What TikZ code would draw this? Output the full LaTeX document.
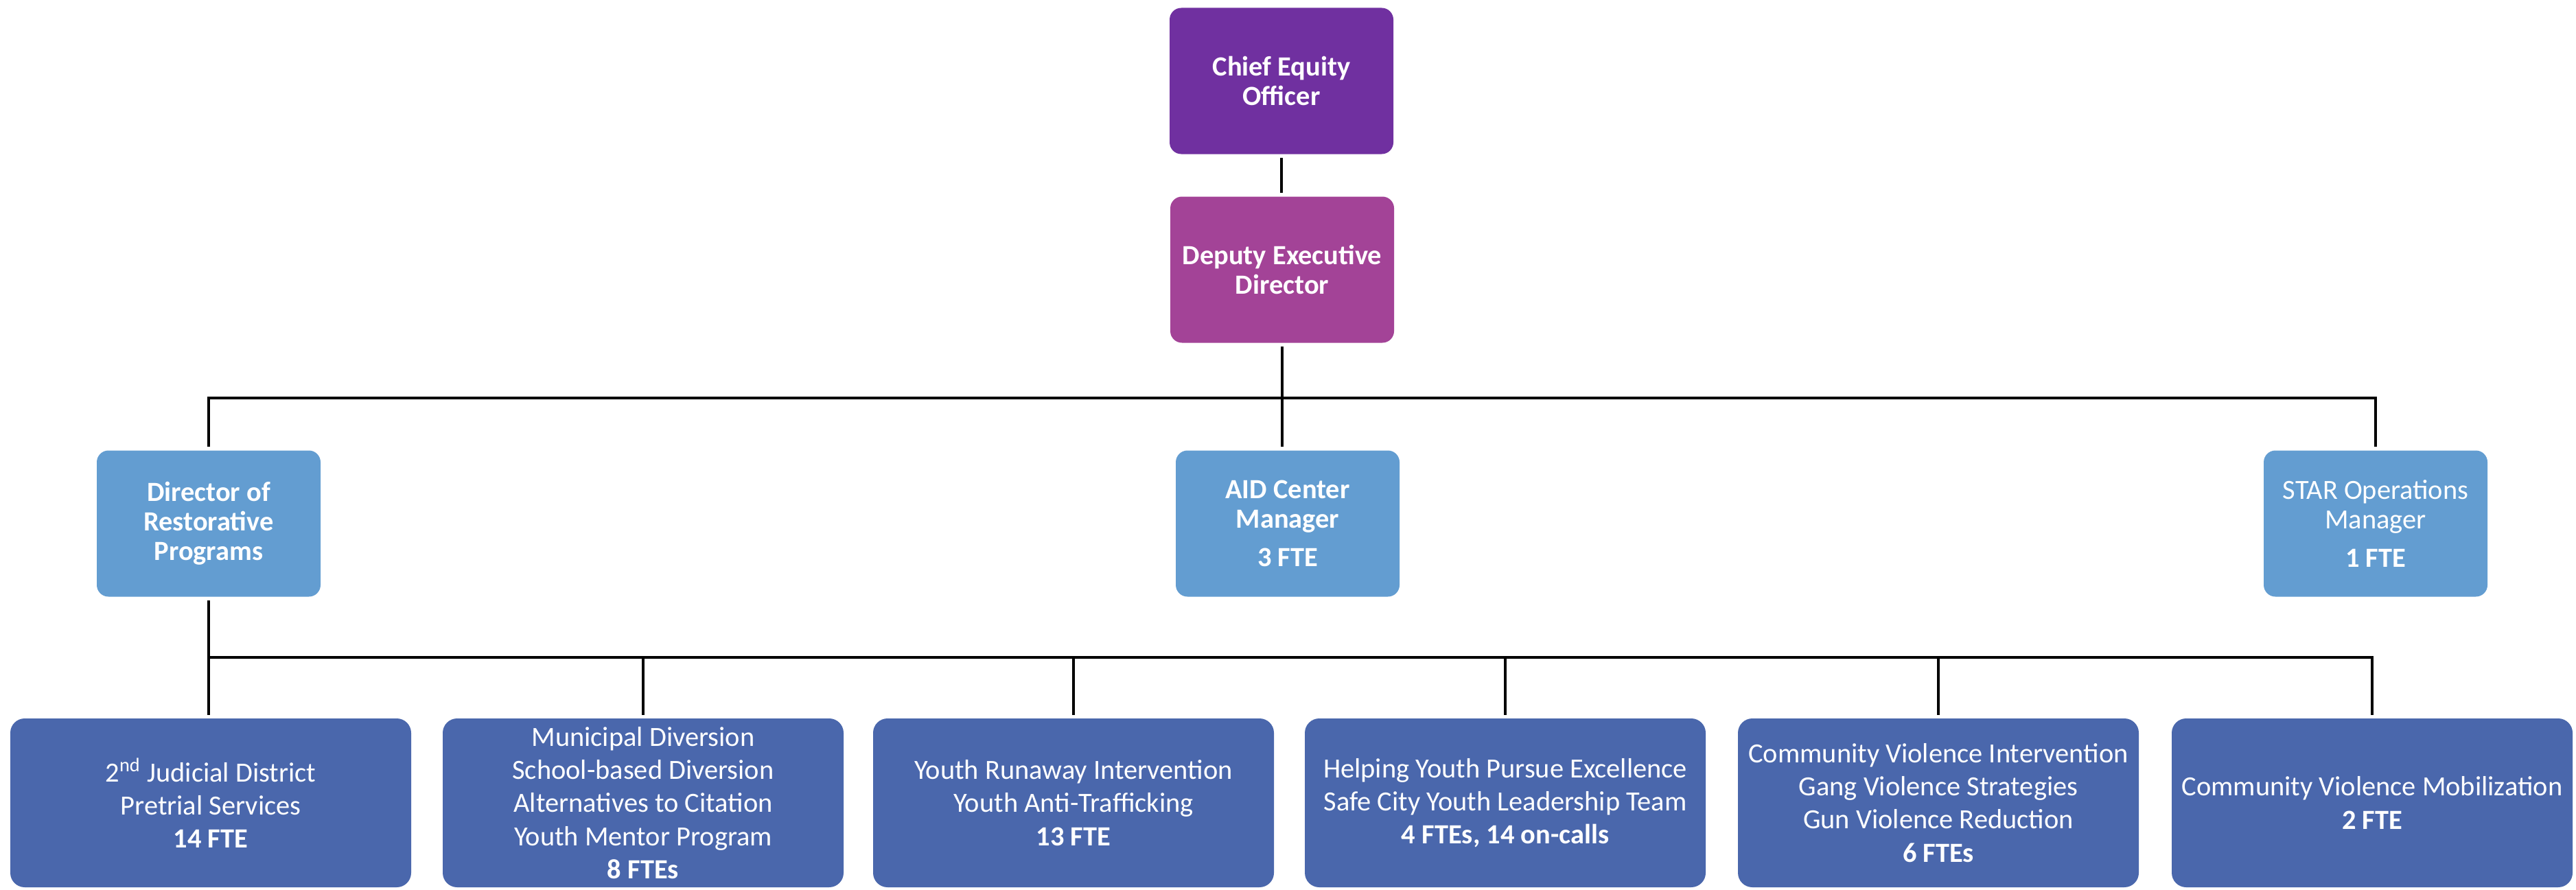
\documentclass[tikz,border=0pt]{standalone}
\usepackage{fontspec}
\setmainfont{Carlito}
\usepackage{xcolor}
\definecolor{chiefpurple}{RGB}{112,48,160}
\definecolor{deputypink}{RGB}{163,67,151}
\definecolor{managerblue}{RGB}{99,157,209}
\definecolor{programblue}{RGB}{74,103,172}

\begin{document}
\begin{tikzpicture}[
	lead/.style = {rounded corners = 0.17cm, minimum width = 3.26cm, minimum height = 2.13cm, inner sep = 0pt, text = white, align = center, font = \fontsize{11.5}{12.2}\selectfont},
	program/.style = {rounded corners = 0.21cm, fill = programblue, minimum width = 5.84cm, minimum height = 2.46cm, inner sep = 0pt, text = white, align = center, font = \fontsize{11.5}{13.7}\selectfont},
	link/.style = {line width = 1.3pt}
	]
	\useasboundingbox (0, 0) rectangle (37.53, -12.96);
	\node[lead, fill = chiefpurple] (chief) at (18.67, -1.18) {\bfseries Chief Equity\\\bfseries Officer};
	\node[lead, fill = deputypink] (deputy) at (18.68, -3.93) {\bfseries Deputy Executive\\\bfseries Director};
	\node[lead, fill = managerblue] (director) at (3.04, -7.63) {\bfseries Director of\\\bfseries Restorative\\\bfseries Programs};
	\node[lead, fill = managerblue] (aid) at (18.76, -7.63) {\bfseries AID Center\\\bfseries Manager\\[3.7pt]\bfseries 3 FTE};
	\node[lead, fill = managerblue] (star) at (34.61, -7.63) {STAR Operations\\Manager\\[3.7pt]\bfseries 1 FTE};
	\node[program] (judicial) at (3.07, -11.70) {2\textsuperscript{nd} Judicial District\\Pretrial Services\\\bfseries 14 FTE};
	\node[program] (diversion) at (9.37, -11.70) {Municipal Diversion\\School-based Diversion\\Alternatives to Citation\\Youth Mentor Program\\\bfseries 8 FTEs};
	\node[program] (runaway) at (15.64, -11.70) {Youth Runaway Intervention\\Youth Anti-Trafficking\\\bfseries 13 FTE};
	\node[program] (excellence) at (21.93, -11.70) {Helping Youth Pursue Excellence\\Safe City Youth Leadership Team\\\bfseries 4 FTEs, 14 on-calls};
	\node[program] (violence) at (28.24, -11.70) {Community Violence Intervention\\Gang Violence Strategies\\Gun Violence Reduction\\\bfseries 6 FTEs};
	\node[program] (mobilization) at (34.56, -11.70) {Community Violence Mobilization\\\bfseries 2 FTE};
	\coordinate (topbar) at (18.66, -5.80);
	\coordinate (lowbar) at (3.02, -9.58);
	\draw[link] ([yshift = -0.05cm]chief.south) -- ([yshift = 0.05cm]chief.south |- deputy.north);
	\draw[link] ([yshift = -0.05cm]deputy.south) -- ([yshift = 0.05cm]deputy.south |- aid.north);
	\draw[link] ([yshift = 0.05cm]director.north) |- (topbar) -| ([yshift = 0.05cm]star.north);
	\draw[link] ([yshift = -0.05cm]director.south) -- ([yshift = 0.04cm]director.south |- judicial.north);
	\draw[link] (lowbar) -| ([yshift = 0.04cm]mobilization.north);
	\draw[link] (diversion.north |- lowbar) -- ([yshift = 0.04cm]diversion.north);
	\draw[link] (runaway.north |- lowbar) -- ([yshift = 0.04cm]runaway.north);
	\draw[link] (excellence.north |- lowbar) -- ([yshift = 0.04cm]excellence.north);
	\draw[link] (violence.north |- lowbar) -- ([yshift = 0.04cm]violence.north);
\end{tikzpicture}
\end{document}
